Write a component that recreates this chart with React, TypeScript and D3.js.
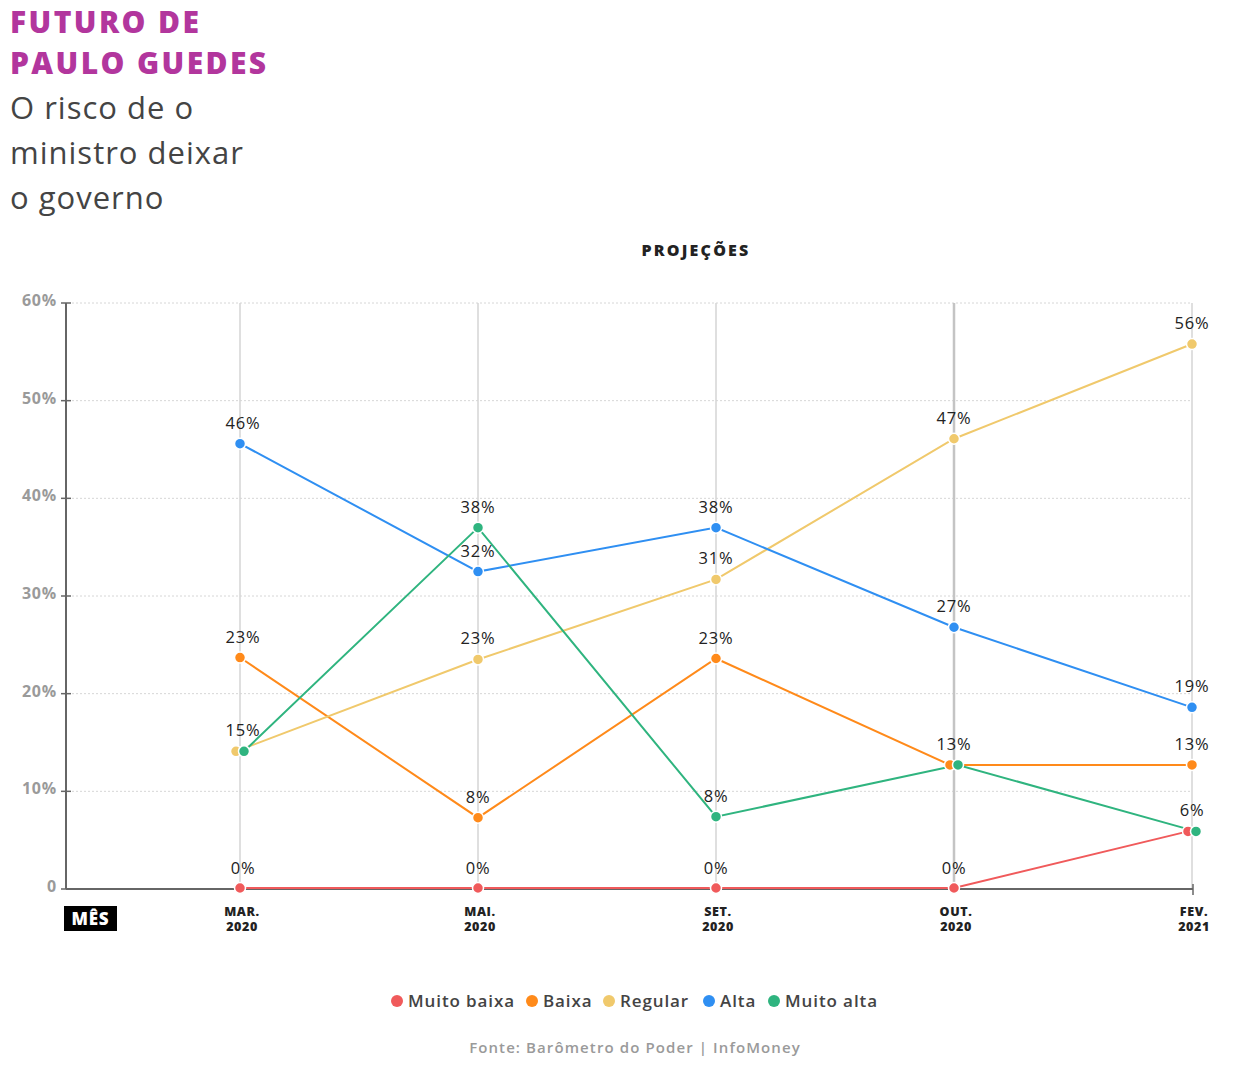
import * as d3 from "d3"

// Months on the x axis (two-line labels)
const months = ["MAR.|2020", "MAI.|2020", "SET.|2020", "OUT.|2020", "FEV.|2021"]

const seriesNames = ["Muito baixa", "Baixa", "Regular", "Alta", "Muito alta"]
const seriesColors = ["#f05a5b", "#ff8a1a", "#f0c96c", "#2f8ff2", "#2fb47f"]

// plotted values
const muitoBaixa = [0, 0, 0, 0, 5.9]
const baixa = [23.7, 7.3, 23.6, 12.7, 12.7]
const regular = [14.1, 23.5, 31.7, 46.1, 55.8]
const alta = [45.6, 32.5, 37.0, 26.8, 18.6]
const muitoAlta = [14.1, 37.0, 7.4, 12.7, 5.9]

// printed labels (null = label shared with another series)
const muitoBaixaLabels = ["0%", "0%", "0%", "0%", null]
const baixaLabels = ["23%", "8%", "23%", "13%", "13%"]
const regularLabels = ["15%", "23%", "31%", "47%", "56%"]
const altaLabels = ["46%", "32%", "38%", "27%", "19%"]
const muitoAltaLabels = [null, "38%", "8%", null, "6%"]

const yTicks = [0, 10, 20, 30, 40, 50, 60]

const FONT = "'Open Sans', 'DejaVu Sans', sans-serif"

export default function App() {
  const width = 1240
  const height = 1075

  const x = d3.scalePoint<string>().domain(months).range([240, 1192])
  const y = d3.scaleLinear().domain([0, 60]).range([889, 303])

  const values = [muitoBaixa, baixa, regular, alta, muitoAlta]
  const labels = [muitoBaixaLabels, baixaLabels, regularLabels, altaLabels, muitoAltaLabels]

  // small horizontal dodge when two dots sit on the same value
  const dodge = values.map((vals, si) =>
    vals.map((v, i) => {
      const same = values
        .map((o, j) => ({ j, v: o[i] }))
        .filter((d) => Math.abs(d.v - v) < 0.3)
      if (same.length < 2) return 0
      const k = same.findIndex((d) => d.j === si)
      return k === 0 ? -4 : 4
    })
  )

  const px = (si: number, i: number) => (x(months[i]) as number) + dodge[si][i]

  const line = d3
    .line<[number, number]>()
    .x((d) => d[0])
    .y((d) => d[1])

  // legend item widths
  const legendWidths = [135, 77, 100, 65, 110]
  let lx = 391

  return (
    <svg
      width={width}
      height={height}
      style={{ position: "absolute", left: 0, top: 0, background: "#fff" }}
      fontFamily={FONT}
    >
      {/* title */}
      <text x={10} y={33} fontSize={30} fontWeight={800} fill="#b2369d" letterSpacing={2.4}>
        FUTURO DE
      </text>
      <text x={10} y={74} fontSize={30} fontWeight={800} fill="#b2369d" letterSpacing={2.4}>
        PAULO GUEDES
      </text>
      {["O risco de o", "ministro deixar", "o governo"].map((t, i) => (
        <text key={t} x={10} y={119 + i * 45} fontSize={31} fill="#444" letterSpacing={1}>
          {t}
        </text>
      ))}

      <text x={696} y={256} fontSize={16} fontWeight={800} fill="#222" textAnchor="middle" letterSpacing={2.2}>
        PROJEÇÕES
      </text>

      {/* horizontal dotted grid */}
      {yTicks
        .filter((t) => t > 0)
        .map((t) => (
          <line
            key={t}
            x1={72}
            x2={1192}
            y1={y(t)}
            y2={y(t)}
            stroke="#d6d6d6"
            strokeDasharray="2,2"
          />
        ))}

      {/* vertical grid at each month */}
      {months.map((m, i) => (
        <line
          key={m}
          x1={x(m)}
          x2={x(m)}
          y1={303}
          y2={889}
          stroke={i === 3 ? "#c4c4c4" : "#d4d4d4"}
          strokeWidth={i === 3 ? 2.5 : 1.5}
        />
      ))}

      {/* y axis */}
      <line x1={66} x2={66} y1={y(60)} y2={y(0)} stroke="#666" strokeWidth={2} />
      {yTicks.map((t) => (
        <g key={t}>
          <line x1={61} x2={71} y1={y(t)} y2={y(t)} stroke="#666" strokeWidth={1.5} />
          <text
            x={57}
            y={y(t) + 3}
            textAnchor="end"
            fontSize={16}
            fontWeight={700}
            fill="#9a9a9a"
            letterSpacing={0.8}
          >
            {t === 0 ? "0" : `${t}%`}
          </text>
        </g>
      ))}

      {/* x axis */}
      <line x1={66} x2={1193} y1={y(0)} y2={y(0)} stroke="#666" strokeWidth={2} />
      <line x1={1193} x2={1193} y1={y(0) - 5} y2={y(0) + 6} stroke="#666" strokeWidth={1.5} />

      {months.map((m) => {
        const [a, b] = m.split("|")
        const cx = (x(m) as number) + 2
        return (
          <text key={m} textAnchor="middle" fontSize={12.5} fontWeight={800} fill="#222" letterSpacing={0.6}>
            <tspan x={cx} y={916}>
              {a}
            </tspan>
            <tspan x={cx} y={931}>
              {b}
            </tspan>
          </text>
        )
      })}

      <rect x={64} y={906} width={53} height={25} fill="#000" />
      <text x={90.5} y={925} textAnchor="middle" fontSize={17} fontWeight={800} fill="#fff" letterSpacing={0.8}>
        MÊS
      </text>

      {/* series lines */}
      {values.map((vals, si) => (
        <path
          key={seriesNames[si]}
          d={line(vals.map((v, i) => [px(si, i), y(v) - (v === 0 ? 1 : 0)])) || ""}
          fill="none"
          stroke={seriesColors[si]}
          strokeWidth={2}
        />
      ))}

      {/* dots */}
      {values.map((vals, si) =>
        vals.map((v, i) => (
          <circle
            key={`${si}-${i}`}
            cx={px(si, i)}
            cy={y(v) - (v === 0 ? 1 : 0)}
            r={5.5}
            fill={seriesColors[si]}
            stroke="#fff"
            strokeWidth={1.5}
          />
        ))
      )}

      {/* value labels */}
      {values.map((vals, si) =>
        vals.map((v, i) =>
          labels[si][i] ? (
            <text
              key={`l${si}-${i}`}
              x={(x(months[i]) as number) + (i === 0 ? 3 : 0)}
              y={y(v) - 15}
              textAnchor="middle"
              fontSize={16.5}
              fill="#222"
              letterSpacing={0.8}
            >
              {labels[si][i]}
            </text>
          ) : null
        )
      )}

      {/* legend */}
      {seriesNames.map((n, i) => {
        const gx = lx
        lx += legendWidths[i]
        return (
          <g key={n} transform={`translate(${gx},1001)`}>
            <circle cx={6} cy={0} r={6} fill={seriesColors[i]} />
            <text x={17} y={6} fontSize={17} fontWeight={600} fill="#444" letterSpacing={0.9}>
              {n}
            </text>
          </g>
        )
      })}

      <text x={635} y={1053} textAnchor="middle" fontSize={15} fontWeight={600} fill="#9a9a9a" letterSpacing={1.1}>
        Fonte: Barômetro do Poder | InfoMoney
      </text>
    </svg>
  )
}
